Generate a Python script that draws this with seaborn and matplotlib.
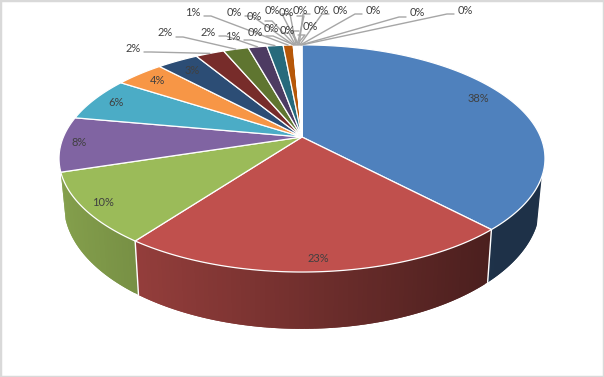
import numpy as np
import seaborn as sns
import matplotlib
import matplotlib.pyplot as plt

matplotlib.use('Agg')

# slice shares, clockwise from 12 o'clock
values = [38, 22.1, 10, 7.8, 6.3, 3.9, 3.3, 2.3, 2.0, 1.5, 1.3, 0.8,
          0.05, 0.05, 0.05, 0.05, 0.05, 0.05, 0.05,
          0.05, 0.05, 0.05, 0.05, 0.05, 0.05, 0.05]
labels = ['38%', '23%', '10%', '8%', '6%', '4%', '3%', '2%', '2%', '2%', '1%', '1%',
          '0%', '0%', '0%', '0%', '0%', '0%', '0%',
          '0%', '0%', '0%', '0%', '0%', '0%', '0%']
colors = ['#4F81BD', '#C0504D', '#9BBB59', '#8064A2', '#4BACC6', '#F79646',
          '#2C4D75', '#772C2A', '#5F7530', '#4D3B62', '#276A7C', '#B65708',
          '#729ACA', '#CD7371', '#AFC97A', '#9983B5', '#6FBDD1', '#F9AB6B',
          '#3A679C', '#9E3B38', '#7E9C40', '#664F82', '#358EA6', '#F37617',
          '#769FCF', '#D17A78']

# where each label sits, in pixels
label_pos = [(478, 99), (318, 259), (103, 202), (79, 143), (116, 102), (157, 81),
             (192, 70), (133, 48), (165, 33), (208, 32), (233, 36), (193, 12),
             (234, 12), (255, 32), (254, 17), (271, 29), (272, 10), (287, 31),
             (286, 12), (300, 10), (310, 27), (321, 10), (340, 10), (373, 10),
             (417, 13), (465, 10)]
n_inside = 7

# perspective of the disc
cx, cy = 302, 137
a, b, k = 109.5, 238.6, 0.189


def top_xy(theta):
    x = np.sin(theta)
    y = np.cos(theta)
    d = 1 + k * y
    return cx + b * x / d, cy - a * y / d


def bottom_xy(theta):
    x, y = top_xy(theta)
    return cx + 0.98 * (x - cx), cy + 44 + 1.095 * (y - cy)


def shade(hex_color, x):
    # the wall gets darker towards the right
    f = np.clip(0.85 - 0.47 * (x - 60) / 440, 0.38, 0.85)
    return tuple(np.array(matplotlib.colors.to_rgb(hex_color)) * f)


sns.set_theme(style='white')
plt.rcParams['font.family'] = ['Lato', 'DejaVu Sans']
palette = sns.color_palette(colors)

fig, ax = plt.subplots(figsize=(6.04, 3.77), dpi=100)
ax.set_position([0, 0, 1, 1])
ax.set_xlim(0, 604)
ax.set_ylim(377, 0)
ax.set_xticks([])
ax.set_yticks([])
for s in ax.spines.values():
    s.set_color('#d9d9d9')
    s.set_linewidth(2.5)

edges = np.cumsum([0] + values) / sum(values) * 2 * np.pi

# side wall, the part facing us: blue, red and green only
wall_start = np.radians(110)
wall_end = edges[3]
for i in range(3):
    t0 = max(edges[i], wall_start)
    t1 = min(edges[i + 1], wall_end)
    steps = np.linspace(t0, t1, max(3, int((t1 - t0) * 60)))
    for j in range(len(steps) - 1):
        # each strip runs under the next one so no seams show
        arc = np.linspace(steps[j], steps[min(j + 2, len(steps) - 1)], 6)
        x0, y0 = top_xy(arc)
        x1, y1 = bottom_xy(arc[::-1])
        c = shade(colors[i], top_xy((steps[j] + steps[j + 1]) / 2)[0])
        ax.fill(np.r_[x0, x1], np.r_[y0, y1], color=c, lw=0, zorder=1)
    if i > 0:
        x0, y0 = top_xy(edges[i])
        x1, y1 = bottom_xy(edges[i])
        ax.plot([x0, x1], [y0, y1], color='white', lw=1, zorder=2)

# top of the pie
for i in range(len(values)):
    arc = np.linspace(edges[i], edges[i + 1], max(2, int((edges[i + 1] - edges[i]) * 100)))
    x, y = top_xy(arc)
    ax.fill(np.r_[cx, x], np.r_[cy, y], facecolor=palette[i], edgecolor='white',
            lw=0.9, joinstyle='round', zorder=3)

# labels and leader lines
for i in range(len(values)):
    lx, ly = label_pos[i]
    ax.text(lx, ly, labels[i], ha='center', va='center', fontsize=8, color='#404040', zorder=6)
    if i < n_inside:
        continue
    tx, ty = top_xy((edges[i] + edges[i + 1]) / 2)
    side = 1 if tx > lx else -1
    sx = lx + side * 11
    sy = ly + 4
    ax.plot([sx, sx + side * 7, tx], [sy, sy, ty], color='#a6a6a6', lw=1, zorder=5)

fig.savefig('out.png', dpi=100)
